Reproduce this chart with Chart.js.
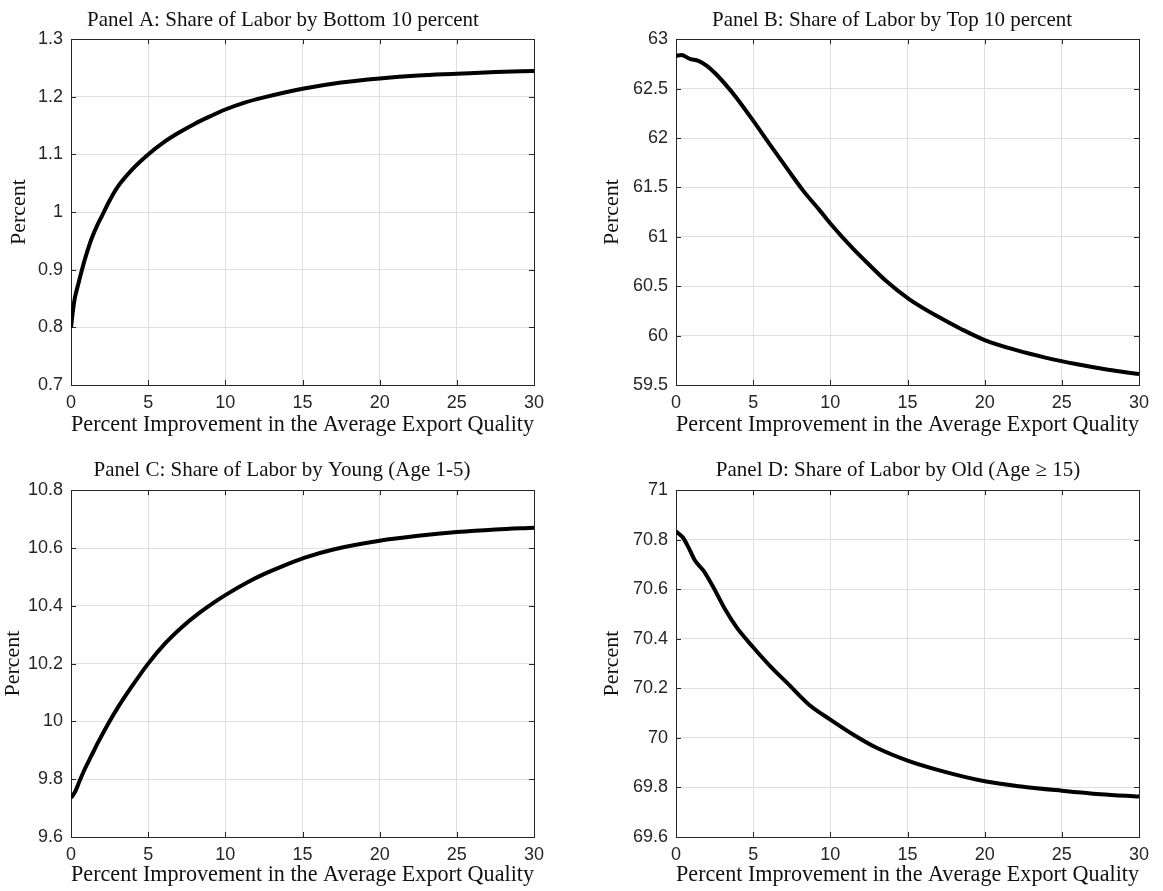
<!DOCTYPE html>
<html>
<head>
<meta charset="utf-8">
<script src="https://cdn.jsdelivr.net/npm/chart.js@4"></script>
<style>
  html, body { margin: 0; padding: 0; background: #fff; }
  body { width: 1163px; height: 891px; position: relative; overflow: hidden; }
  .panel { position: absolute; }
</style>
</head>
<body>
<div class="panel" id="boxA"><canvas id="chartA"></canvas></div>
<div class="panel" id="boxB"><canvas id="chartB"></canvas></div>
<div class="panel" id="boxC"><canvas id="chartC"></canvas></div>
<div class="panel" id="boxD"><canvas id="chartD"></canvas></div>
<script>
// ---- data ----
const xTicks = [0, 5, 10, 15, 20, 25, 30];
const xTitle = 'Percent Improvement in the Average Export Quality';
const yTitle = 'Percent';

const titleA = 'Panel A: Share of Labor by Bottom 10 percent';
const xA = [0, 0.15, 0.25, 0.5, 0.75, 1, 1.35, 1.75, 2, 2.4, 3, 4, 5, 6, 7, 8, 9, 10, 11.25, 12.5, 15, 17.5, 20, 22.5, 25, 27.5, 30];
const yA = [0.8, 0.834, 0.851, 0.878, 0.904, 0.927, 0.955, 0.98, 0.993, 1.015, 1.043, 1.075, 1.1, 1.121, 1.138, 1.153, 1.166, 1.178, 1.19, 1.199, 1.214, 1.225, 1.232, 1.237, 1.24, 1.243, 1.245];
const yTicksA = [0.7, 0.8, 0.9, 1, 1.1, 1.2, 1.3];
const yLabelsA = ['0.7', '0.8', '0.9', '1', '1.1', '1.2', '1.3'];

const titleB = 'Panel B: Share of Labor by Top 10 percent';
const xB = [0, 0.35, 0.9, 1.45, 2, 2.6, 3.3, 3.9, 5, 6.1, 7.2, 8.25, 9.3, 10, 11.5, 12.6, 13.6, 15.1, 17, 18.5, 20, 22, 24, 26, 28, 30];
const yB = [62.832, 62.84, 62.8, 62.78, 62.73, 62.645, 62.525, 62.41, 62.175, 61.93, 61.69, 61.465, 61.27, 61.135, 60.875, 60.705, 60.555, 60.37, 60.19, 60.065, 59.955, 59.855, 59.775, 59.71, 59.655, 59.61];
const yTicksB = [59.5, 60, 60.5, 61, 61.5, 62, 62.5, 63];
const yLabelsB = ['59.5', '60', '60.5', '61', '61.5', '62', '62.5', '63'];

const titleC = 'Panel C: Share of Labor by Young (Age 1-5)';
const xC = [0, 0.26, 0.58, 0.91, 1.34, 1.77, 2.42, 3.07, 3.93, 5, 6.1, 7.2, 8.25, 9.3, 10, 11.5, 12.6, 13.6, 15.1, 17, 20, 22.5, 25, 27.5, 30];
const yC = [9.735, 9.756, 9.797, 9.837, 9.883, 9.929, 9.993, 10.051, 10.12, 10.2, 10.27, 10.327, 10.373, 10.413, 10.437, 10.483, 10.512, 10.535, 10.566, 10.595, 10.625, 10.642, 10.655, 10.664, 10.67];
const yTicksC = [9.6, 9.8, 10, 10.2, 10.4, 10.6, 10.8];
const yLabelsC = ['9.6', '9.8', '10', '10.2', '10.4', '10.6', '10.8'];

const titleD = 'Panel D: Share of Labor by Old (Age \u2265 15)';
const xD = [0, 0.26, 0.48, 0.8, 1.23, 1.77, 2.42, 3.17, 3.93, 5, 6.1, 7.2, 8.6, 10, 11.5, 13, 15.1, 17, 20, 22.5, 25, 27.5, 30];
const yD = [70.834, 70.82, 70.806, 70.77, 70.716, 70.676, 70.608, 70.52, 70.446, 70.366, 70.29, 70.222, 70.135, 70.074, 70.013, 69.96, 69.906, 69.87, 69.825, 69.803, 69.787, 69.773, 69.763];
const yTicksD = [69.6, 69.8, 70, 70.2, 70.4, 70.6, 70.8, 71];
const yLabelsD = ['69.6', '69.8', '70', '70.2', '70.4', '70.6', '70.8', '71'];

const AXIS = '#262626';
const GRID = '#dfdfdf';
const SERIF = "'Liberation Serif', 'DejaVu Serif', serif";
const SANS = "'Liberation Sans', Arial, sans-serif";

// matlab style box + inward ticks
const boxTicks = {
  id: 'boxTicks',
  beforeDatasetsDraw(chart) {
    const { ctx, chartArea: a, scales } = chart;
    const len = 5;
    ctx.save();
    ctx.strokeStyle = AXIS;
    ctx.lineWidth = 1;
    ctx.beginPath();
    scales.x.ticks.forEach(t => {
      const px = Math.round(scales.x.getPixelForValue(t.value)) + 0.5;
      ctx.moveTo(px, a.bottom); ctx.lineTo(px, a.bottom - len);
      ctx.moveTo(px, a.top); ctx.lineTo(px, a.top + len);
    });
    scales.y.ticks.forEach(t => {
      const py = Math.round(scales.y.getPixelForValue(t.value)) + 0.5;
      ctx.moveTo(a.left, py); ctx.lineTo(a.left + len, py);
      ctx.moveTo(a.right, py); ctx.lineTo(a.right - len, py);
    });
    ctx.stroke();
    ctx.strokeRect(Math.round(a.left) + 0.5, Math.round(a.top) + 0.5,
      Math.round(a.right - a.left), Math.round(a.bottom - a.top));
    ctx.restore();
  }
};

function makePanel(id, box, lay, title, xs, ys, yTicks, yLabels) {
  const el = document.getElementById(box);
  el.style.left = lay.left + 'px';
  el.style.top = lay.top + 'px';
  el.style.width = lay.width + 'px';
  el.style.height = lay.height + 'px';

  new Chart(document.getElementById(id), {
    type: 'line',
    data: {
      datasets: [{
        data: xs.map((x, i) => ({ x: x, y: ys[i] })),
        borderColor: '#000',
        borderWidth: 4,
        pointRadius: 0,
        cubicInterpolationMode: 'monotone',
        fill: false
      }]
    },
    options: {
      responsive: true,
      maintainAspectRatio: false,
      animation: false,
      layout: { padding: 0 },
      plugins: {
        legend: { display: false },
        tooltip: { enabled: false },
        title: {
          display: true,
          text: title,
          color: '#111',
          font: { family: SERIF, size: 21, weight: 'normal' },
          padding: { top: lay.titleTop, bottom: lay.titleBottom }
        }
      },
      scales: {
        x: {
          type: 'linear',
          min: 0,
          max: 30,
          afterBuildTicks: s => { s.ticks = xTicks.map(v => ({ value: v })); },
          afterFit: s => { s.height = lay.xh; },
          grid: { color: GRID, drawTicks: false },
          border: { display: false },
          ticks: { color: AXIS, padding: 7, font: { family: SANS, size: 18 } },
          title: {
            display: true,
            text: xTitle,
            color: '#111',
            font: { family: SERIF, size: 23 },
            padding: { top: 0, bottom: lay.xtb }
          }
        },
        y: {
          type: 'linear',
          min: yTicks[0],
          max: yTicks[yTicks.length - 1],
          afterBuildTicks: s => { s.ticks = yTicks.map(v => ({ value: v })); },
          afterFit: s => { s.width = lay.yw; },
          grid: { color: GRID, drawTicks: false },
          border: { display: false },
          ticks: {
            color: AXIS,
            padding: 8,
            font: { family: SANS, size: 18 },
            callback: (v, i) => yLabels[i]
          },
          title: {
            display: true,
            text: yTitle,
            color: '#111',
            font: { family: SERIF, size: 22 },
            padding: { top: lay.ytp, bottom: 0 }
          }
        },
        yR: {
          type: 'linear',
          position: 'right',
          min: 0,
          max: 1,
          afterFit: s => { s.width = lay.rw; },
          grid: { display: false },
          border: { display: false },
          ticks: { display: false }
        }
      }
    },
    plugins: [boxTicks]
  });
}

makePanel('chartA', 'boxA',
  { left: 0, top: 0, width: 566, height: 445, yw: 71, rw: 32, xh: 60, xtb: 6, ytp: 6, titleTop: 8, titleBottom: 6 },
  titleA, xA, yA, yTicksA, yLabelsA);
makePanel('chartB', 'boxB',
  { left: 590, top: 0, width: 604, height: 445, yw: 86, rw: 55, xh: 60, xtb: 6, ytp: 9, titleTop: 8, titleBottom: 6 },
  titleB, xB, yB, yTicksB, yLabelsB);
makePanel('chartC', 'boxC',
  { left: 0, top: 445, width: 564, height: 446, yw: 71, rw: 30, xh: 54, xtb: 2, ytp: 0, titleTop: 13, titleBottom: 7 },
  titleC, xC, yC, yTicksC, yLabelsC);
makePanel('chartD', 'boxD',
  { left: 590, top: 445, width: 616, height: 446, yw: 86, rw: 67, xh: 54, xtb: 2, ytp: 9, titleTop: 13, titleBottom: 7 },
  titleD, xD, yD, yTicksD, yLabelsD);
</script>
</body>
</html>
